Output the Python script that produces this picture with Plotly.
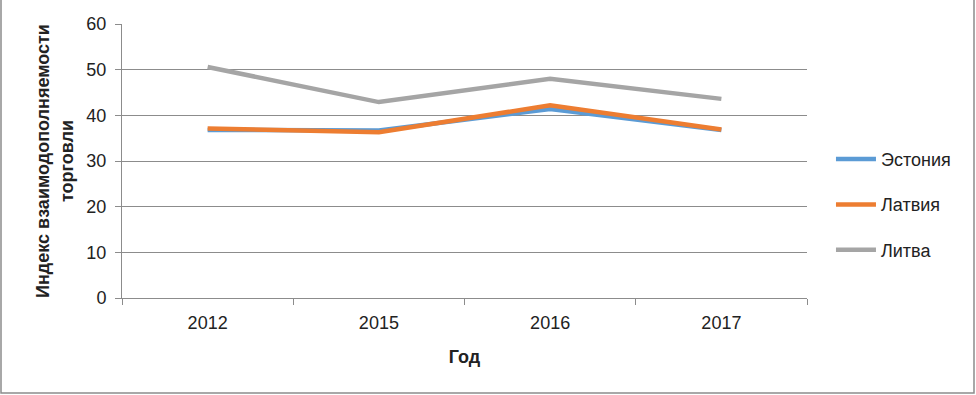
import plotly.graph_objects as go

years = ["2012", "2015", "2016", "2017"]
estonia = [36.8, 36.7, 41.4, 36.8]
latvia = [37.1, 36.3, 42.2, 36.9]
lithuania = [50.6, 42.9, 48.0, 43.6]
series_names = ["Эстония", "Латвия", "Литва"]
colors = ["#5B9BD5", "#ED7D31", "#A5A5A5"]
y_ticks = [0, 10, 20, 30, 40, 50, 60]

FONT = "Liberation Sans, sans-serif"

W, H = 976, 395
L, R, T, B = 122, 169, 24, 97
pw, ph = W - L - R, H - T - B

fig = go.Figure()
for i, (name, vals) in enumerate(zip(series_names, [estonia, latvia, lithuania])):
    fig.add_trace(go.Scatter(
        x=years, y=vals, mode="lines", name=name,
        line=dict(color=colors[i], width=4.5),
        legendgroup=name,
    ))

fig.update_layout(
    width=W, height=H,
    margin=dict(l=L, r=R, t=T, b=B),
    paper_bgcolor="white", plot_bgcolor="white",
    font=dict(family=FONT, size=18, color="#222"),
    showlegend=True,
    legend=dict(
        x=1.035, y=0.34, xanchor="left", yanchor="middle",
        font=dict(size=18, color="#222"),
        tracegroupgap=19, itemwidth=40,
        bgcolor="rgba(0,0,0,0)",
    ),
    xaxis=dict(
        type="category", range=[-0.5, 3.5],
        showgrid=False, showline=True, linecolor="#8c8c8c", linewidth=1,
        ticks="outside", tickson="boundaries", ticklen=6, tickcolor="#8c8c8c",
        tickfont=dict(size=18, color="#222"), ticklabelstandoff=8,
        title=dict(text="<b>Год</b>", font=dict(size=18, color="#222"), standoff=18),
    ),
    yaxis=dict(
        range=[0, 60], tickvals=y_ticks,
        showgrid=True, gridcolor="#8c8c8c", gridwidth=1,
        showline=True, linecolor="#8c8c8c", linewidth=1,
        ticks="outside", ticklen=6, tickcolor="#8c8c8c",
        tickfont=dict(size=18, color="#222"), ticklabelstandoff=5,
        zeroline=False,
        title=dict(text="<b>Индекс взаимодополняемости<br>торговли</b>",
                   font=dict(size=18, color="#222"), standoff=8),
    ),
    shapes=[dict(type="rect", xref="paper", yref="paper",
                 x0=(1 - L) / pw, x1=(W - 2 - L) / pw,
                 y0=-(B - 2) / ph, y1=(H - T - 1) / ph,
                 line=dict(color="#8c8c8c", width=1.5))],
)

fig.write_html("out.html", config={"displayModeBar": False},
               post_script="document.body.style.margin='0';")
